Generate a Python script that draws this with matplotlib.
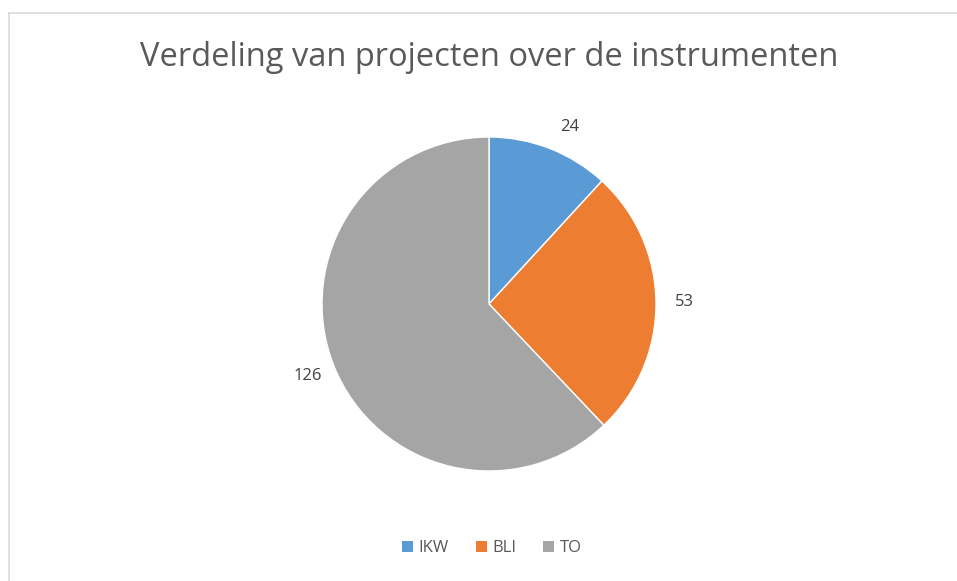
import matplotlib
matplotlib.use("Agg")
import matplotlib.pyplot as plt
from matplotlib.lines import Line2D
from matplotlib.patches import Patch

categories = ["IKW", "BLI", "TO"]
values = [24, 53, 126]
colors = ["#5B9BD5", "#ED7D31", "#A5A5A5"]
title = "Verdeling van projecten over de instrumenten"

W, H = 957, 581
fig = plt.figure(figsize=(W / 100, H / 100), dpi=100)
plt.rcParams['font.family'] = ['Open Sans', 'DejaVu Sans']

# border lines (left and top)
fig.add_artist(Line2D([8.5 / W, 8.5 / W], [0, 1 - 12.5 / H], transform=fig.transFigure,
                      color="#D9D9D9", lw=1.2))
fig.add_artist(Line2D([8.5 / W, 1], [1 - 12.5 / H, 1 - 12.5 / H], transform=fig.transFigure,
                      color="#D9D9D9", lw=1.2))

cx, cy, r = 489, 304, 167
ax = fig.add_axes([(cx - r) / W, (H - cy - r) / H, 2 * r / W, 2 * r / H])
wedges, texts = ax.pie(values, colors=colors, startangle=90, counterclock=False,
                       labels=[str(v) for v in values], labeldistance=1.17,
                       wedgeprops=dict(edgecolor="white", linewidth=1),
                       textprops=dict(fontsize=12, color="#404040"))
for t in texts:
    t.set_horizontalalignment("center")
    t.set_verticalalignment("center")
# nudge first label slightly to match reference placement
x0, y0 = texts[0].get_position()
texts[0].set_position((x0 + 0.06, y0 - 0.03))
ax.set_xlim(-1, 1)
ax.set_ylim(-1, 1)
ax.set_aspect("equal")
ax.axis("off")

fig.text(489 / W, 1 - 57 / H, title, ha="center", va="center", fontsize=23.5, color="#595959")

handles = [Patch(facecolor=c, edgecolor="none") for c in colors]
fig.legend(handles, categories, loc="center", bbox_to_anchor=(492 / W, 1 - 548 / H),
           ncol=3, frameon=False, fontsize=12, handlelength=0.65, handleheight=0.65,
           handletextpad=0.35, columnspacing=1.6, labelcolor="#595959")

fig.savefig("out.png", dpi=100, facecolor="white")
